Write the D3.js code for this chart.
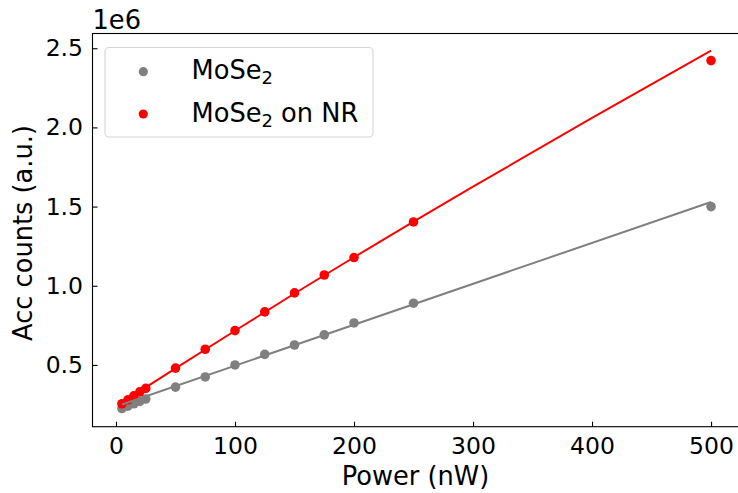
<!DOCTYPE html>
<html>
<head>
<meta charset="utf-8">
<script src="https://cdn.jsdelivr.net/npm/d3@7"></script>
<style>
  html, body { margin: 0; padding: 0; background: #fff; }
  svg { display: block; font-family: "DejaVu Sans", sans-serif; }
</style>
</head>
<body>
<svg id="chart" width="738" height="493"></svg>
<script>
// Measured excitation powers (nW)
const power = [5, 10, 15, 20, 25, 50, 75, 100, 125, 150, 175, 200, 250, 500];
// Accumulated counts, units of 1e6
const countsMoSe2 = [0.225, 0.24, 0.255, 0.27, 0.285, 0.36, 0.424, 0.50, 0.567, 0.626, 0.69, 0.765, 0.89, 1.50];
const countsMoSe2NR = [0.255, 0.28, 0.305, 0.33, 0.352, 0.48, 0.599, 0.717, 0.835, 0.955, 1.068, 1.178, 1.403, 2.422];

// Fitted curves (units of 1e6)
const fitPowerMoSe2 = [5, 500];
const fitMoSe2 = [0.25, 1.529];
const fitPowerNR = [5, 25, 50, 100, 150, 200, 250, 300, 400, 500];
const fitNR = [0.262, 0.358, 0.478, 0.716, 0.951, 1.180, 1.405, 1.626, 2.06, 2.485];

const xTicks = [0, 100, 200, 300, 400, 500];
const yTicks = [0.5, 1.0, 1.5, 2.0, 2.5];

const svg = d3.select("#chart");
const plot = { left: 92.5, right: 740.5, top: 33.5, bottom: 426.7 };

const x = d3.scaleLinear().domain([-19.75, 524.75]).range([plot.left, plot.right]);
const y = d3.scaleLinear().domain([0.110, 2.593]).range([plot.bottom, plot.top]);

const grey = "#808080", red = "#ff0000";
const tickFont = 23.5;
const labelFont = 25.7;

// Scatter points
function scatter(xs, ys, color) {
  svg.append("g").selectAll("circle")
    .data(xs.map((d, i) => [d, ys[i]]))
    .join("circle")
    .attr("cx", d => x(d[0]))
    .attr("cy", d => y(d[1]))
    .attr("r", 4.8)
    .attr("fill", color);
}
scatter(power, countsMoSe2, grey);
scatter(power, countsMoSe2NR, red);

// Fit lines
const line = d3.line().x(d => x(d[0])).y(d => y(d[1]));
function fitLine(xs, ys, color) {
  svg.append("path")
    .datum(xs.map((d, i) => [d, ys[i]]))
    .attr("d", line)
    .attr("fill", "none")
    .attr("stroke", color)
    .attr("stroke-width", 2);
}
fitLine(fitPowerMoSe2, fitMoSe2, grey);
fitLine(fitPowerNR, fitNR, red);

// Axes with inward ticks
const xAxis = svg.append("g")
  .attr("transform", `translate(0,${plot.bottom})`)
  .call(d3.axisBottom(x).tickValues(xTicks).tickSize(-5).tickPadding(11).tickFormat(d3.format("d")));
const yAxis = svg.append("g")
  .attr("transform", `translate(${plot.left},0)`)
  .call(d3.axisLeft(y).tickValues(yTicks).tickSize(-5).tickPadding(9.5).tickFormat(d3.format(".1f")));
[xAxis, yAxis].forEach(g => {
  g.select(".domain").remove();
  g.selectAll(".tick line").attr("stroke", "#000").attr("stroke-width", 1.1);
  g.selectAll(".tick text")
    .attr("font-family", "DejaVu Sans")
    .attr("font-size", tickFont)
    .attr("fill", "#000");
});

// Frame
svg.append("rect")
  .attr("x", plot.left).attr("y", plot.top)
  .attr("width", plot.right - plot.left).attr("height", plot.bottom - plot.top)
  .attr("fill", "none").attr("stroke", "#000").attr("stroke-width", 1.1);

// Offset label
svg.append("text")
  .attr("x", plot.left).attr("y", 29)
  .attr("font-size", labelFont)
  .text("1e6");

// Axis titles
svg.append("text")
  .attr("x", 415.5).attr("y", 485)
  .attr("text-anchor", "middle")
  .attr("font-size", labelFont)
  .text("Power (nW)");
svg.append("text")
  .attr("transform", `translate(32,233) rotate(-90)`)
  .attr("text-anchor", "middle")
  .attr("font-size", labelFont)
  .text("Acc counts (a.u.)");

// Legend
const legend = svg.append("g");
legend.append("rect")
  .attr("x", 105).attr("y", 47.5).attr("width", 268).attr("height", 89.5)
  .attr("rx", 4).attr("ry", 4)
  .attr("fill", "#fff").attr("fill-opacity", 0.8)
  .attr("stroke", "#d6d6d6").attr("stroke-width", 1.1);
const legendItems = [
  { color: grey, suffix: "" },
  { color: red, suffix: " on NR" }
];
legendItems.forEach((it, i) => {
  const cy = 71.7 + i * 42.3;
  legend.append("circle").attr("cx", 143.3).attr("cy", cy).attr("r", 4.6).attr("fill", it.color);
  const t = legend.append("text")
    .attr("x", 191.5).attr("y", cy + 7.5)
    .attr("font-size", labelFont);
  t.append("tspan").text("MoSe");
  t.append("tspan").attr("font-size", labelFont * 0.7).attr("dy", 5).text("2");
  if (it.suffix) t.append("tspan").attr("dy", -5).text(it.suffix);
});
</script>
</body>
</html>
